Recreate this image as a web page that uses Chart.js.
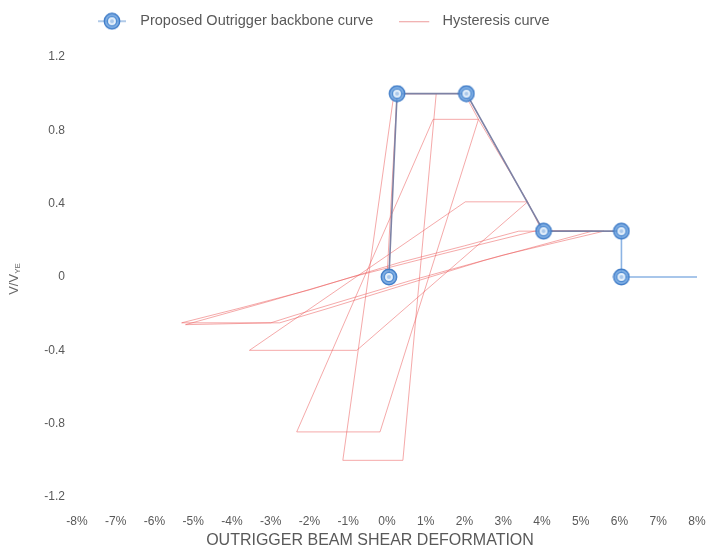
<!DOCTYPE html>
<html><head><meta charset="utf-8">
<script src="https://cdn.jsdelivr.net/npm/chart.js@4.4.1/dist/chart.umd.min.js"></script>
<style>html,body{margin:0;padding:0;background:#fff;}</style>
</head><body>
<canvas id="c" width="712" height="552"></canvas>
<script>
// ---- data ----
const xTicks = [-8,-7,-6,-5,-4,-3,-2,-1,0,1,2,3,4,5,6,7,8];
const yTicks = [-1.2,-0.8,-0.4,0,0.4,0.8,1.2];
const backboneX = [0.05, 0.26, 2.05, 4.04, 6.05, 6.05, 8.0];
const backboneY = [0, 1.0, 1.0, 0.25, 0.25, 0, 0];
const hystX = [0, 0.26, 1.27, 0.41, -1.14, 0.16, 0.26, 2.0, 2.36, -0.18, -2.33, 1.19, 2.36,
  3.63, -0.78, -3.55, 2.02, 3.63, 4.0, 5.3,
  2.5, 0.34, -1.5, -2.77, -5.3, -3.8, -2.0, 0.34, 2.0, 3.4, 5.6,
  3.0, 0.6, -2.4, -3.0, -5.2, -3.0, -0.9, 1.5, 3.8, 5.0];
const hystY = [0, 1.0, 1.0, -1.0, -1.0, 0.97, 1.0, 1.0, 0.86, -0.845, -0.845, 0.86, 0.86,
  0.41, -0.40, -0.40, 0.41, 0.41, 0.25, 0.25,
  0.09, -0.05, -0.17, -0.25, -0.25, -0.17, -0.07, 0.08, 0.17, 0.25, 0.25,
  0.12, -0.02, -0.21, -0.25, -0.26, -0.13, 0.0, 0.13, 0.25, 0.25];
const seriesNames = ['Proposed Outrigger backbone curve', 'Hysteresis curve'];
const xTitle = 'OUTRIGGER BEAM SHEAR DEFORMATION';

const toPts = (xs, ys) => xs.map((x, i) => ({x: x, y: ys[i]}));
const FONT = '"Liberation Sans", Arial, sans-serif';

function ringMarker() {
  const c = document.createElement('canvas'); c.width = 18; c.height = 18;
  const g = c.getContext('2d');
  g.beginPath(); g.arc(9, 9, 7.7, 0, 2 * Math.PI);
  g.fillStyle = 'rgba(105,160,222,0.85)'; g.fill();
  g.lineWidth = 1.4; g.strokeStyle = 'rgb(65,125,200)'; g.stroke();
  g.beginPath(); g.arc(9, 9, 4.6, 0, 2 * Math.PI);
  g.fillStyle = 'rgba(235,243,252,0.95)'; g.fill();
  g.lineWidth = 1.3; g.strokeStyle = 'rgb(80,140,210)'; g.stroke();
  g.beginPath(); g.arc(9, 9, 2, 0, 2 * Math.PI);
  g.fillStyle = 'rgba(170,200,235,1)'; g.fill();
  return c;
}
function legendBackbone() {
  const c = document.createElement('canvas'); c.width = 36; c.height = 18;
  const g = c.getContext('2d');
  g.strokeStyle = 'rgb(150,185,225)'; g.lineWidth = 1.5;
  g.beginPath(); g.moveTo(1, 9); g.lineTo(29, 9); g.stroke();
  g.drawImage(ringMarker(), 6, 0);
  return c;
}
function legendHyst() {
  const c = document.createElement('canvas'); c.width = 36; c.height = 18;
  const g = c.getContext('2d');
  g.strokeStyle = 'rgba(230,120,120,0.75)'; g.lineWidth = 1;
  g.beginPath(); g.moveTo(0, 9.5); g.lineTo(30, 9.5); g.stroke();
  return c;
}
const marker = ringMarker();

const layoutPlugin = {
  id: 'layoutPlugin',
  beforeInit(chart) {
    const orig = chart.legend.fit;
    chart.legend.fit = function () { orig.call(this); this.height = 57; };
  },
  afterLayout(chart) {
    const lg = chart.legend;
    lg.left = 71; lg.right = 712; lg.top = -12;
  },
  afterDraw(chart) {
    const ctx = chart.ctx;
    // x axis title
    ctx.save();
    ctx.fillStyle = '#595959';
    ctx.font = '16px ' + FONT;
    ctx.textAlign = 'center';
    ctx.textBaseline = 'middle';
    ctx.fillText(xTitle, 370, 541);
    ctx.restore();
    // y axis title with subscript
    ctx.save();
    ctx.translate(14, 279);
    ctx.rotate(-Math.PI / 2);
    ctx.fillStyle = '#666';
    ctx.textBaseline = 'middle';
    ctx.font = '13px ' + FONT;
    const main = 'V/V';
    const w1 = ctx.measureText(main).width;
    ctx.font = '8px ' + FONT;
    const sub = 'YE';
    const w2 = ctx.measureText(sub).width;
    const start = -(w1 + w2) / 2;
    ctx.font = '13px ' + FONT;
    ctx.textAlign = 'left';
    ctx.fillText(main, start, 0);
    ctx.font = '8px ' + FONT;
    ctx.fillText(sub, start + w1, 4);
    ctx.restore();
  }
};

new Chart(document.getElementById('c'), {
  type: 'scatter',
  data: {
    datasets: [
      {
        label: seriesNames[0],
        data: toPts(backboneX, backboneY),
        showLine: true,
        borderWidth: 1.6,
        borderColor: 'rgb(125,130,165)',
        segment: {
          borderColor: ctx => ctx.p0DataIndex >= 4 ? 'rgb(140,180,228)' : 'rgb(125,130,165)'
        },
        pointStyle: marker,
        pointRadius: ctx => ctx.dataIndex === backboneX.length - 1 ? 0 : 8,
        pointHoverRadius: 8,
        clip: false,
        order: 0
      },
      {
        label: seriesNames[1],
        data: toPts(hystX, hystY),
        showLine: true,
        borderWidth: 1,
        borderColor: 'rgba(235,85,85,0.5)',
        pointRadius: 0,
        order: 1
      }
    ]
  },
  options: {
    responsive: false,
    devicePixelRatio: 1,
    animation: false,
    layout: { padding: { left: 0, right: 15, top: 0, bottom: 0 } },
    plugins: {
      legend: {
        display: true,
        position: 'top',
        align: 'start',
        labels: {
          usePointStyle: true,
          pointStyleWidth: 36,
          padding: 26,
          color: '#595959',
          font: { family: FONT, size: 14.5 },
          generateLabels: chart => [
            { text: seriesNames[0], pointStyle: legendBackbone(), datasetIndex: 0, fontColor: '#595959', lineWidth: 0, strokeStyle: 'rgba(0,0,0,0)', fillStyle: 'rgba(0,0,0,0)' },
            { text: seriesNames[1], pointStyle: legendHyst(), datasetIndex: 1, fontColor: '#595959', lineWidth: 0, strokeStyle: 'rgba(0,0,0,0)', fillStyle: 'rgba(0,0,0,0)' }
          ]
        }
      },
      tooltip: { enabled: false }
    },
    scales: {
      x: {
        type: 'linear', min: -8, max: 8,
        grid: { display: false, drawTicks: false },
        border: { display: false },
        afterBuildTicks: s => { s.ticks = xTicks.map(v => ({ value: v })); },
        afterFit: s => { s.height = 55; s.paddingLeft = 0; s.paddingRight = 0; },
        ticks: {
          padding: 17, maxRotation: 0, autoSkip: false, color: '#595959',
          font: { family: FONT, size: 12 },
          callback: v => v + '%'
        },
        title: { display: false }
      },
      y: {
        type: 'linear', min: -1.2, max: 1.2,
        grid: { display: false, drawTicks: false },
        border: { display: false },
        afterBuildTicks: s => { s.ticks = yTicks.map(v => ({ value: v })); },
        afterFit: s => { s.width = 77; s.paddingTop = 0; s.paddingBottom = 0; },
        ticks: {
          padding: 12, color: '#595959',
          font: { family: FONT, size: 12 },
          callback: v => v === 0 ? '0' : v.toFixed(1)
        }
      }
    }
  },
  plugins: [layoutPlugin]
});
</script>
</body></html>
